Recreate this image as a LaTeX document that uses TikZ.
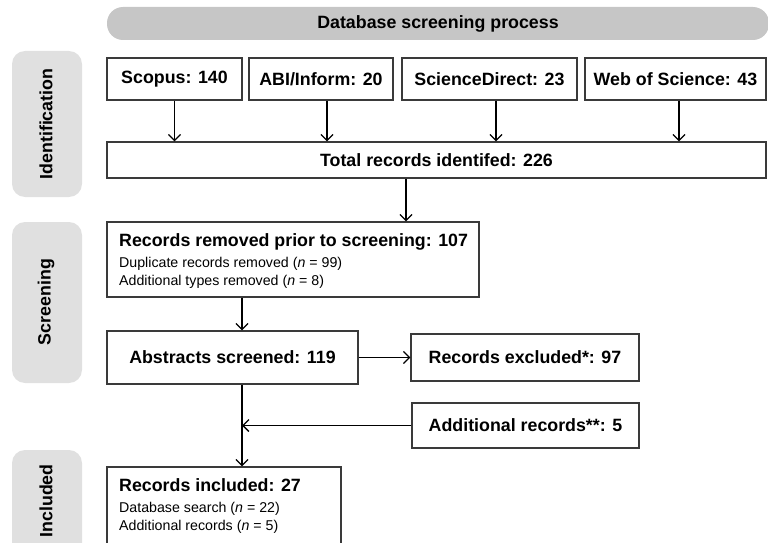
\documentclass[tikz,border=0pt]{standalone}
\usepackage{fontspec}
\setmainfont{Liberation Sans}
\usetikzlibrary{arrows.meta}
\definecolor{hdrgray}{HTML}{C6C6C6}
\definecolor{sidegray}{HTML}{E0E0E0}
\definecolor{edge}{HTML}{3A3A3A}
\tikzset{
  bigfont/.style={font=\bfseries\fontsize{17.8}{20}\selectfont},
  stagebox/.style={draw=edge, line width=1.2pt, fill=white, inner sep=0pt, bigfont},
  sidebox/.style={fill=sidegray, rounded corners=13pt, minimum width=70pt, inner sep=0pt},
  sidelabel/.style={bigfont, rotate=90},
  blocktext/.style={bigfont, align=left, anchor=west, inner sep=0pt},
  arr/.style={line width=1.3pt, -{Straight Barb[length=6pt,width=12pt,line width=1.3pt]}}
}
\newcommand{\smalltxt}{\normalfont\fontsize{14.2}{16}\selectfont}
\begin{document}
\begin{tikzpicture}[x=1pt,y=-1pt]
\useasboundingbox (0,0) rectangle (768,543);
\clip (0,0) rectangle (768,543);
% header
\node[fill=hdrgray, rounded corners=16pt, minimum width=662pt, minimum height=33pt, inner sep=0pt, bigfont] (hdr) at (438,23.5) {Database screening process};
% side stage boxes
\node[sidebox, minimum height=146pt] (idside) at (47,124) {};
\node[sidelabel] (idlab) at (46,124) {Identification};
\node[sidebox, minimum height=161pt] (scrside) at (47,302.5) {};
\node[sidelabel] (scrlab) at (46,302) {Screening};
\node[sidebox, minimum height=140pt] (incside) at (47,520) {};
\node[sidelabel, anchor=west] (inclab) at (46,541) {Included};
% source boxes
\node[stagebox, minimum width=135pt, minimum height=42pt] (scopus) at (174.5,79) {Scopus: 140};
\node[stagebox, minimum width=144pt, minimum height=42pt] (abi) at (321,79) {ABI/Inform: 20};
\node[stagebox, minimum width=175pt, minimum height=42pt] (sd) at (489.5,79) {ScienceDirect: 23};
\node[stagebox, minimum width=181pt, minimum height=42pt] (wos) at (675.5,79) {Web of Science: 43};
% total
\node[stagebox, minimum width=659pt, minimum height=36pt] (total) at (436.5,160) {Total records identifed: 226};
% removed
\node[stagebox, minimum width=372pt, minimum height=75pt] (removed) at (293,259.5) {};
\node[blocktext] (removedtxt) at (119,261)
  {Records removed prior to screening: 107\\[1pt]
   {\smalltxt Duplicate records removed (\textit{n} = 99)}\\[-2pt]
   {\smalltxt Additional types removed (\textit{n} = 8)}};
% abstracts
\node[stagebox, minimum width=251pt, minimum height=53pt] (abstracts) at (232.5,357.5) {Abstracts screened: 119};
\node[stagebox, minimum width=228pt, minimum height=47pt] (excluded) at (525,357.5) {Records excluded*: 97};
\node[stagebox, minimum width=227pt, minimum height=45pt] (additional) at (525.5,425.5) {Additional records**: 5};
% included
\node[stagebox, minimum width=234pt, minimum height=80pt] (included) at (224,507) {};
\node[blocktext] (includedtxt) at (119,506.5)
  {Records included: 27\\[1pt]
   {\smalltxt Database search (\textit{n} = 22)}\\[-2pt]
   {\smalltxt Additional records (\textit{n} = 5)}};
% spine coordinates
\coordinate (spine) at (242,0);
\coordinate (tspine) at (406,0);
% arrows
\draw[arr] (scopus.south) -- (scopus.south |- total.north);
\draw[arr] ([xshift=6pt]abi.south) -- ([xshift=6pt]abi.south |- total.north);
\draw[arr] ([xshift=6.5pt]sd.south) -- ([xshift=6.5pt]sd.south |- total.north);
\draw[arr] ([xshift=3.5pt]wos.south) -- ([xshift=3.5pt]wos.south |- total.north);
\draw[arr] (total.south -| tspine) -- (removed.north -| tspine);
\draw[arr] (removed.south -| spine) -- (abstracts.north -| spine);
\draw[arr] (abstracts.east) -- (excluded.west);
\draw[arr] (abstracts.south -| spine) -- (included.north -| spine);
\draw[arr] (additional.west) -- (additional.west -| spine);
\end{tikzpicture}
\end{document}
